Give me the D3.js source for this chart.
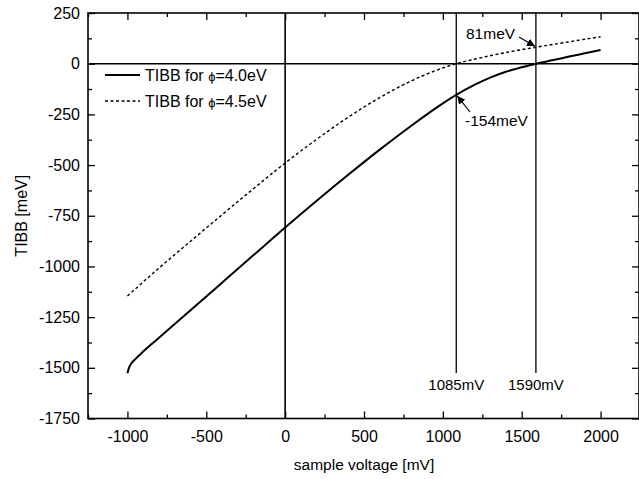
<!DOCTYPE html>
<html><head><meta charset="utf-8">
<script src="https://cdn.jsdelivr.net/npm/d3@7"></script>
<style>body{margin:0;background:#fff}svg{display:block}text{font-family:Arial,"Liberation Sans",sans-serif;fill:#000}</style>
</head><body><svg id="c" width="639" height="479"></svg>
<script>
// Data
const voltage40 = [-1000,-990,-975,-950,-900,-800,-600,-400,-200,0,200,400,600,800,1000,1085,1200,1300,1400,1500,1590,1700,1800,1900,2000];
const tibb40    = [-1527,-1500,-1478,-1457,-1420,-1352,-1216,-1080,-944,-808,-676,-548,-424,-306,-196,-154,-105,-69,-40,-18,0,18,35,51,67];
const voltage45 = [-1000,-800,-600,-400,-200,0,200,400,600,800,1000,1085,1200,1400,1590,1800,2000];
const tibb45    = [-1146,-1008,-876,-745,-616,-490,-373,-264,-167,-85,-21,0,22,55,81,108,133];
const xTicks = [-1000,-500,0,500,1000,1500,2000];
const yTicks = [250,0,-250,-500,-750,-1000,-1250,-1500,-1750];
const markV = [1085,1590];
const markLabels = ["1085mV","1590mV"];

const svg = d3.select("#c");
const L=88, R=640, T=13, B=418.5;
const x = d3.scaleLinear().domain([-1250,2250]).range([L,R]);
const y = d3.scaleLinear().domain([-1750,250]).range([B,T]);

const g = svg.append("g");
const xMinor = d3.range(-1250,2251,250);
const yMinor = d3.range(-1750,251,125);
function ticks(axisGen, tr, vals, size){
  const a = g.append("g").attr("transform",tr).call(axisGen.tickValues(vals).tickSize(size).tickFormat(""));
  a.select(".domain").remove();
  a.selectAll("line").attr("stroke","#000").attr("stroke-width",1.3);
}
ticks(d3.axisTop(x), `translate(0,${B})`, xMinor.filter(v=>!xTicks.includes(v)), 4);
ticks(d3.axisTop(x), `translate(0,${B})`, xTicks, 7);
ticks(d3.axisBottom(x), `translate(0,${T})`, xMinor.filter(v=>!xTicks.includes(v)), 4);
ticks(d3.axisBottom(x), `translate(0,${T})`, xTicks, 7);
ticks(d3.axisRight(y), `translate(${L},0)`, yMinor.filter(v=>!yTicks.includes(v)), 4);
ticks(d3.axisRight(y), `translate(${L},0)`, yTicks, 7);
ticks(d3.axisLeft(y), `translate(${R-1},0)`, yMinor.filter(v=>!yTicks.includes(v)), 4);
ticks(d3.axisLeft(y), `translate(${R-1},0)`, yTicks, 7);

const fmt = d => String(d);
const bl = g.append("g").attr("transform",`translate(0,${B})`).call(d3.axisBottom(x).tickValues(xTicks).tickSize(0).tickPadding(12).tickFormat(fmt));
bl.select(".domain").remove();
bl.selectAll("text").attr("font-size",16).attr("font-family","Arial, 'Liberation Sans', sans-serif");
const ll = g.append("g").attr("transform",`translate(${L},0)`).call(d3.axisLeft(y).tickValues(yTicks).tickSize(0).tickPadding(8).tickFormat(fmt));
ll.select(".domain").remove();
ll.selectAll("text").attr("font-size",16).attr("font-family","Arial, 'Liberation Sans', sans-serif");

g.append("rect").attr("x",L).attr("y",T).attr("width",R-L-1).attr("height",B-T)
 .attr("fill","none").attr("stroke","#000").attr("stroke-width",1.6);
g.append("line").attr("x1",L).attr("x2",R).attr("y1",y(0)).attr("y2",y(0)).attr("stroke","#000").attr("stroke-width",1.6);
g.append("line").attr("x1",x(0)).attr("x2",x(0)).attr("y1",T).attr("y2",B).attr("stroke","#000").attr("stroke-width",1.6);
markV.forEach((v,i)=>{
  g.append("line").attr("x1",x(v)).attr("x2",x(v)).attr("y1",T).attr("y2",373).attr("stroke","#000").attr("stroke-width",1.3);
  g.append("text").attr("x",x(v)).attr("y",390).attr("text-anchor","middle").attr("font-size",15).text(markLabels[i]);
});

const line = d3.line().x(d=>x(d[0])).y(d=>y(d[1])).curve(d3.curveMonotoneX);
g.append("path").datum(voltage40.map((v,i)=>[v,tibb40[i]])).attr("d",line)
 .attr("fill","none").attr("stroke","#000").attr("stroke-width",2);
g.append("path").datum(voltage45.map((v,i)=>[v,tibb45[i]])).attr("d",line)
 .attr("fill","none").attr("stroke","#000").attr("stroke-width",1.4).attr("stroke-dasharray","3,2.5");

svg.append("defs").append("marker").attr("id","ah").attr("viewBox","0 0 10 10").attr("refX",10).attr("refY",5)
 .attr("markerWidth",8).attr("markerHeight",8).attr("markerUnits","userSpaceOnUse").attr("orient","auto")
 .append("path").attr("d","M0,0L10,5L0,10z").attr("fill","#000");
g.append("text").attr("x",466).attr("y",39).attr("font-size",15.5).text("81meV");
g.append("line").attr("x1",519).attr("y1",37).attr("x2",x(1590)-1).attr("y2",y(81)-1).attr("stroke","#000").attr("stroke-width",1.2).attr("marker-end","url(#ah)");
g.append("text").attr("x",465).attr("y",126).attr("font-size",15.5).text("-154meV");
g.append("line").attr("x1",470).attr("y1",112).attr("x2",x(1085)+1).attr("y2",y(-154)+1).attr("stroke","#000").attr("stroke-width",1.2).attr("marker-end","url(#ah)");

const leg = g.append("g");
leg.append("line").attr("x1",105).attr("x2",140).attr("y1",75).attr("y2",75).attr("stroke","#000").attr("stroke-width",2);
leg.append("line").attr("x1",105).attr("x2",140).attr("y1",101).attr("y2",101).attr("stroke","#000").attr("stroke-width",1.4).attr("stroke-dasharray","3,2.5");
const t1 = leg.append("text").attr("x",145).attr("y",81).attr("font-size",16);
t1.append("tspan").text("TIBB for ");
t1.append("tspan").attr("font-size",13).text("ϕ");
t1.append("tspan").text("=4.0eV");
const t2 = leg.append("text").attr("x",145).attr("y",107).attr("font-size",16);
t2.append("tspan").text("TIBB for ");
t2.append("tspan").attr("font-size",13).text("ϕ");
t2.append("tspan").text("=4.5eV");

svg.append("text").attr("x",(L+R)/2).attr("y",470).attr("text-anchor","middle").attr("font-size",15.5).text("sample voltage [mV]");
svg.append("text").attr("transform",`translate(27,${(T+B)/2}) rotate(-90)`).attr("text-anchor","middle").attr("font-size",16).text("TIBB [meV]");
</script></body></html>
